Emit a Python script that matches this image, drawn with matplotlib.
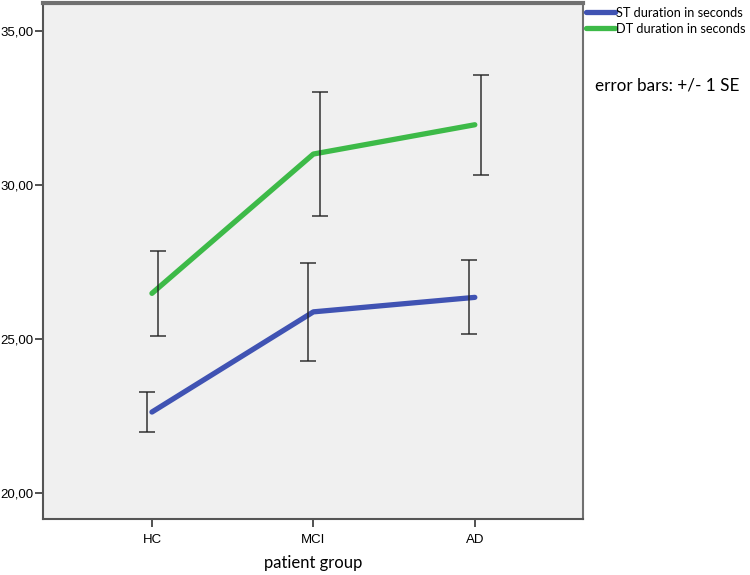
import matplotlib
matplotlib.use("Agg")
import matplotlib.pyplot as plt
import numpy as np

groups = ["HC", "MCI", "AD"]
st_mean = [22.63, 25.88, 26.35]
st_se = [0.64, 1.58, 1.20]
dt_mean = [26.48, 31.00, 31.95]
dt_se = [1.37, 2.02, 1.63]

blue = "#4053b3"
green = "#3dba48"

fig = plt.figure(figsize=(7.5, 5.75), dpi=100)
ax = fig.add_axes([0.0573, 0.0974, 0.72, 0.8974])
ax.set_facecolor("#f0f0f0")

x = np.arange(len(groups))
ax.plot(x, st_mean, color=blue, lw=3.8, solid_capstyle="round", label="ST duration in seconds")
ax.plot(x, dt_mean, color=green, lw=3.8, solid_capstyle="round", label="DT duration in seconds")

# SPSS style: error bars shifted a bit from the line vertex
ax.errorbar(x - 0.033, st_mean, yerr=st_se, fmt="none", ecolor="#222222",
            elinewidth=1.2, capsize=6, capthick=1.2, alpha=0.85)
ax.errorbar(x + 0.04, dt_mean, yerr=dt_se, fmt="none", ecolor="#222222",
            elinewidth=1.2, capsize=6, capthick=1.2, alpha=0.85)

ax.set_xlim(-0.675, 2.67)
ax.set_ylim(19.16, 35.9)
ax.set_xticks(x)
ax.set_xticklabels(groups, family="Liberation Sans", fontsize=9.5)
yt = [20, 25, 30, 35]
ax.set_yticks(yt)
ax.set_yticklabels([f"{v:.2f}".replace(".", ",") for v in yt], family="Liberation Sans", fontsize=9.5)
ax.tick_params(direction="out", length=6, width=1.2, color="#333333", pad=1)
ax.tick_params(axis="x", length=6, pad=5)

for s in ax.spines.values():
    s.set_color("#707070")
    s.set_linewidth(1.5)
ax.spines["top"].set_linewidth(3)
ax.spines["bottom"].set_color("#555555")
ax.spines["left"].set_color("#555555")

ax.set_xlabel("patient group", family="Lato", fontsize=12, labelpad=6)

fig.legend(loc="upper left", bbox_to_anchor=(0.766, 1.008), frameon=False,
           handlelength=2.3, handletextpad=0.05, labelspacing=0.3,
           prop={"family": "Lato", "size": 9.2})

fig.text(0.793, 0.852, "error bars: +/- 1 SE", family="Lato", fontsize=12.3, va="center")

fig.savefig("out.png", dpi=100, facecolor="white")
